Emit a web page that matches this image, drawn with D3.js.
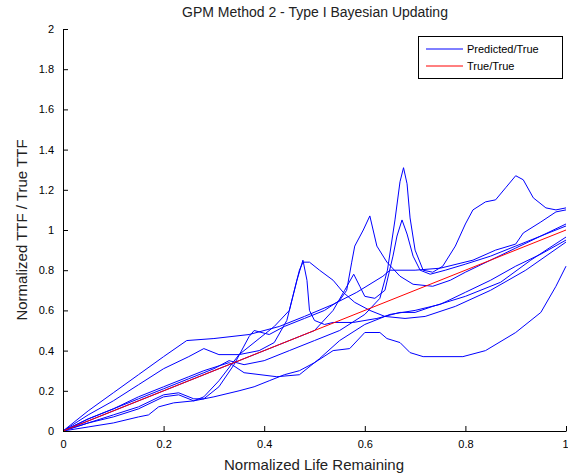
<!DOCTYPE html>
<html><head><meta charset="utf-8">
<script src="https://cdn.jsdelivr.net/npm/d3@7"></script>
<style>body{margin:0;background:#fff}text{font-family:"Liberation Sans",Arial,Helvetica,sans-serif}</style>
</head><body><svg id="c" width="568" height="475"></svg>
<script>
const title = "GPM Method 2 - Type I Bayesian Updating";
const xLabel = "Normalized Life Remaining";
const yLabel = "Normalized TTF / True TTF";
const xTicks = [0,0.2,0.4,0.6,0.8,1];
const yTicks = [0,0.2,0.4,0.6,0.8,1,1.2,1.4,1.6,1.8,2];
const legendLabels = ["Predicted/True","True/True"];

const curve1 = [[0,0],[0.05,0.06],[0.1,0.11],[0.15,0.16],[0.2,0.21],[0.25,0.26],[0.28,0.29],[0.3,0.31],[0.33,0.35],[0.36,0.33],[0.4,0.35],[0.45,0.4],[0.5,0.45],[0.55,0.5],[0.6,0.58],[0.63,0.66],[0.645,0.8],[0.66,1.05],[0.67,1.24],[0.677,1.31],[0.684,1.23],[0.69,1.06],[0.7,0.9],[0.716,0.8],[0.735,0.79],[0.755,0.82],[0.78,0.92],[0.8,1.03],[0.815,1.1],[0.84,1.14],[0.86,1.15],[0.88,1.21],[0.9,1.27],[0.915,1.25],[0.935,1.16],[0.96,1.11],[0.98,1.1],[1,1.11]];
const curve2 = [[0,0],[0.05,0.04],[0.1,0.08],[0.15,0.12],[0.2,0.18],[0.23,0.19],[0.26,0.16],[0.28,0.16],[0.31,0.22],[0.34,0.33],[0.37,0.47],[0.38,0.5],[0.41,0.48],[0.44,0.52],[0.48,0.56],[0.52,0.6],[0.55,0.65],[0.564,0.7],[0.574,0.84],[0.58,0.92],[0.597,1.0],[0.61,1.07],[0.624,0.92],[0.644,0.84],[0.67,0.77],[0.696,0.73],[0.735,0.72],[0.77,0.75],[0.8,0.79],[0.85,0.85],[0.9,0.91],[0.95,0.97],[1,1.03]];
const curve3 = [[0,0],[0.05,0.1],[0.1,0.19],[0.15,0.28],[0.2,0.37],[0.246,0.45],[0.3,0.46],[0.37,0.48],[0.43,0.52],[0.48,0.57],[0.537,0.63],[0.584,0.69],[0.636,0.77],[0.65,0.8],[0.7,0.8],[0.75,0.81],[0.815,0.85],[0.86,0.9],[0.9,0.93],[0.915,0.985],[0.95,1.04],[0.98,1.09],[1,1.1]];
const curve4 = [[0,0],[0.05,0.08],[0.1,0.15],[0.15,0.23],[0.2,0.31],[0.25,0.37],[0.28,0.41],[0.31,0.38],[0.35,0.38],[0.39,0.4],[0.42,0.44],[0.445,0.55],[0.457,0.67],[0.465,0.75],[0.477,0.85],[0.485,0.75],[0.49,0.6],[0.5,0.55],[0.52,0.53],[0.537,0.54],[0.577,0.54],[0.624,0.56],[0.67,0.59],[0.7,0.59],[0.735,0.62],[0.8,0.67],[0.87,0.74],[0.93,0.85],[1,0.965]];
const curve5 = [[0,0],[0.05,0.04],[0.1,0.07],[0.15,0.11],[0.2,0.17],[0.23,0.18],[0.26,0.15],[0.28,0.17],[0.31,0.25],[0.35,0.38],[0.39,0.46],[0.42,0.52],[0.45,0.6],[0.47,0.8],[0.477,0.84],[0.49,0.84],[0.51,0.8],[0.537,0.75],[0.557,0.69],[0.58,0.64],[0.61,0.6],[0.64,0.57],[0.68,0.56],[0.72,0.57],[0.78,0.62],[0.85,0.7],[0.92,0.8],[1,0.94]];
const curve6 = [[0,0],[0.05,0.02],[0.1,0.04],[0.15,0.07],[0.17,0.08],[0.19,0.12],[0.22,0.14],[0.26,0.15],[0.3,0.17],[0.35,0.2],[0.38,0.22],[0.41,0.25],[0.44,0.28],[0.47,0.3],[0.5,0.34],[0.537,0.4],[0.57,0.41],[0.6,0.49],[0.63,0.49],[0.644,0.46],[0.67,0.44],[0.69,0.39],[0.716,0.37],[0.795,0.37],[0.84,0.4],[0.9,0.49],[0.95,0.59],[0.98,0.72],[1,0.82]];
const curve7 = [[0,0],[0.05,0.05],[0.1,0.1],[0.15,0.15],[0.2,0.2],[0.25,0.25],[0.3,0.3],[0.35,0.35],[0.4,0.4],[0.45,0.45],[0.5,0.5],[0.537,0.6],[0.56,0.7],[0.578,0.78],[0.59,0.72],[0.6,0.67],[0.62,0.66],[0.64,0.7],[0.656,0.87],[0.664,0.97],[0.674,1.05],[0.684,0.98],[0.696,0.87],[0.71,0.8],[0.73,0.78],[0.76,0.8],[0.8,0.83],[0.85,0.87],[0.9,0.92],[0.95,0.97],[1,1.02]];
const curve8 = [[0,0],[0.05,0.06],[0.1,0.11],[0.15,0.17],[0.2,0.22],[0.25,0.27],[0.28,0.3],[0.33,0.34],[0.36,0.29],[0.425,0.27],[0.47,0.28],[0.51,0.36],[0.55,0.45],[0.6,0.53],[0.65,0.58],[0.7,0.6],[0.75,0.63],[0.8,0.69],[0.85,0.75],[0.9,0.82],[0.95,0.88],[1,0.95]];
const predicted = [curve1,curve2,curve3,curve4,curve5,curve6,curve7,curve8];
const trueLine = [[0,0],[1,1]];

const svg = d3.select("#c");
const x = d3.scaleLinear().domain([0,1]).range([63,566]);
const y = d3.scaleLinear().domain([0,2]).range([431,29]);
const line = d3.line().x(d=>x(d[0])).y(d=>y(d[1]));

svg.append("g").selectAll("path").data(predicted).join("path")
  .attr("d",line).attr("fill","none").attr("stroke","#0000ff").attr("stroke-width",1);
svg.append("path").attr("d",line(trueLine)).attr("fill","none").attr("stroke","#ff0000").attr("stroke-width",1);

const xa = svg.append("g").attr("transform","translate(0,431)")
  .call(d3.axisBottom(x).tickValues(xTicks).tickFormat(d3.format("~g")).tickSizeInner(-5).tickSizeOuter(0).tickPadding(9));
const ya = svg.append("g").attr("transform","translate(63,0)")
  .call(d3.axisLeft(y).tickValues(yTicks).tickFormat(d3.format("~g")).tickSizeInner(-5).tickSizeOuter(0).tickPadding(9));
[xa,ya].forEach(a=>{a.select(".domain").attr("stroke","#000");a.selectAll("line").attr("stroke","#000");
  a.selectAll("text").attr("font-size",11).attr("fill","#000").style("font-family","'Liberation Sans',Arial,sans-serif");});
xa.selectAll(".tick").filter(d=>d===1).select("text").attr("text-anchor","end").attr("x",2);

svg.append("text").attr("x",315).attr("y",17).attr("text-anchor","middle").attr("font-size",14).attr("fill","#222").text(title);
svg.append("text").attr("x",314).attr("y",470).attr("text-anchor","middle").attr("font-size",15).attr("fill","#222").text(xLabel);
svg.append("text").attr("transform","translate(27,230) rotate(-90)").attr("text-anchor","middle").attr("font-size",15).attr("fill","#222").text(yLabel);

const lg = svg.append("g");
lg.append("rect").attr("x",418.5).attr("y",36.5).attr("width",144).attr("height",42).attr("fill","#fff").attr("stroke","#000");
const lcol = ["#0000ff","#ff0000"];
legendLabels.forEach((t,i)=>{
  const yy = 49 + i*17;
  lg.append("line").attr("x1",426).attr("x2",463).attr("y1",yy).attr("y2",yy).attr("stroke",lcol[i]).attr("stroke-width",1);
  lg.append("text").attr("x",467).attr("y",yy+4).attr("font-size",11).attr("fill","#000").text(t);
});
</script></body></html>
